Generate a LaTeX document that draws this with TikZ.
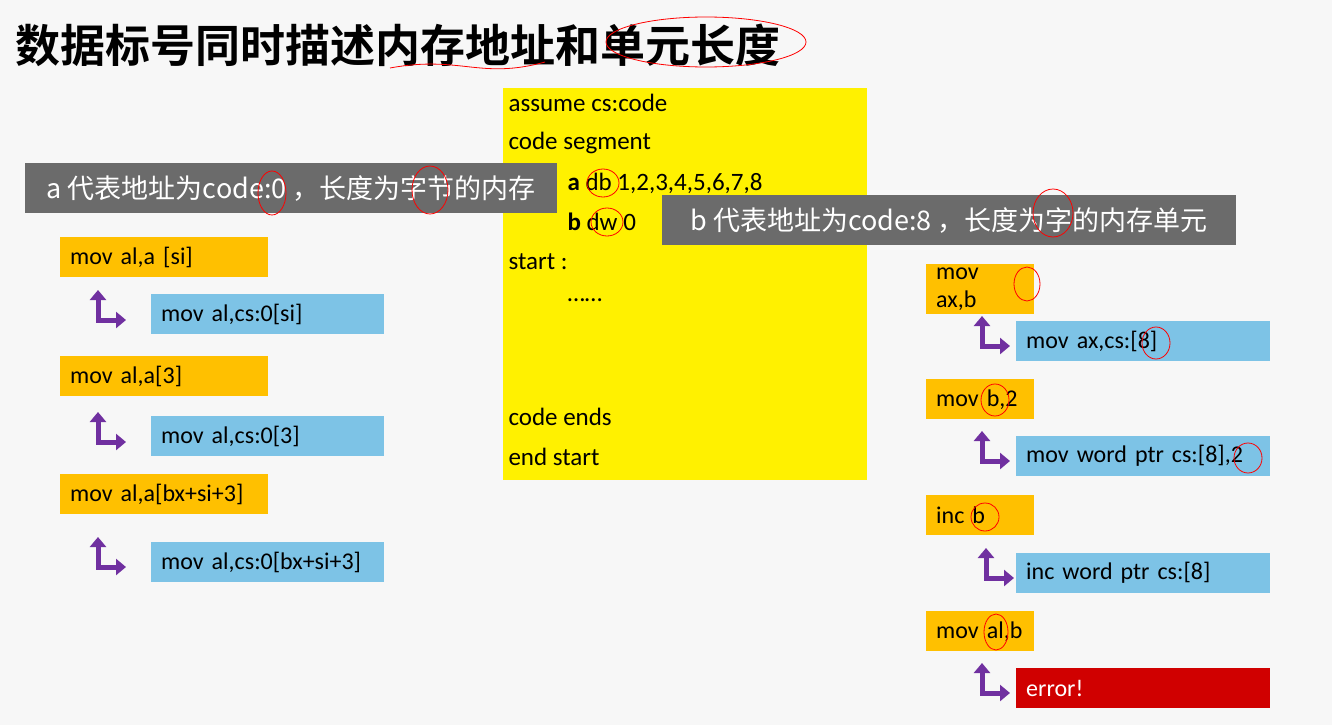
\documentclass[tikz,border=0pt]{standalone}
\usepackage{fontspec}
\setmainfont{Carlito}
\newfontfamily\cjk{Noto Sans CJK SC}
\newfontfamily\cjkb{Noto Sans CJK SC Bold}
\usetikzlibrary{calc,positioning,arrows.meta}
\definecolor{insorange}{HTML}{FFC000}
\definecolor{resblue}{HTML}{7DC3E6}
\definecolor{tagGray}{HTML}{6B6B6B}
\definecolor{codeyellow}{HTML}{FFF100}
\definecolor{iconpurple}{HTML}{7030A0}
\definecolor{errred}{HTML}{D00000}
\tikzset{
 ins/.style={fill=insorange,anchor=north west,minimum height=40pt,inner xsep=10pt,align=left,font=\fontsize{24}{28}\selectfont},
 res/.style={fill=resblue,anchor=north west,minimum height=40pt,inner xsep=10pt,align=left,font=\fontsize{24}{28}\selectfont},
 tag/.style={fill=tagGray,text=white,anchor=north west,minimum height=50pt,inner xsep=10pt,font=\cjk\fontsize{27}{30}\selectfont},
 codeline/.style={anchor=west,font=\fontsize{25}{28}\selectfont},
 ink/.style={red,thick}
}
\newcommand\bent[2]{\draw[iconpurple,line width=5pt,<->,>={Triangle[length=10pt,width=16pt]}] (#1,#2) -- ++(0,30) -- ++(28,0);}
\begin{document}
\begin{tikzpicture}[x=1pt,y=-1pt]
\useasboundingbox[fill=gray!6] (0,0) rectangle (1332,725);
\node[anchor=west,font=\cjkb\fontsize{45}{50}\selectfont] (title) at (12,45) {数据标号同时描述内存地址和单元长度};
\draw[ink] (706,42) ellipse (100 and 25);
\draw[ink] (390,68) .. controls (460,55) and (480,80) .. (545,62);

% code box
\fill[codeyellow] (503,88) rectangle (867,480);
\node[codeline] (l1) at (505,103) {assume cs:code};
\node[codeline] (l2) at (505,143) {code segment};
\node[codeline] (l3) at (564,183) {\textbf{a} db 1,2,3,4,5,6,7,8};
\node[codeline] (l4) at (564,222) {\textbf{b} dw 0};
\node[codeline] (l5) at (505,262) {start :};
\node[codeline] (l6) at (564,300) {……};
\node[codeline] (l7) at (505,417) {code ends};
\node[codeline] (l8) at (505,457) {end start};

% tags
\node[tag,minimum width=532pt] (ta) at (25,163) {a 代表地址为code:0 ，长度为字节的内存};
\node[tag,minimum width=574pt] (tb) at (662,195) {b 代表地址为code:8 ，长度为字的内存单元};

% left column
\node[ins,text width=188pt] (a1) at (60,237) {mov al,a [si]};
\node[res,text width=213pt] (r1) at (151,294) {mov al,cs:0[si]};
\node[ins,text width=188pt] (a2) at (60,356) {mov al,a[3]};
\node[res,text width=213pt] (r2) at (151,416) {mov al,cs:0[3]};
\node[ins,text width=188pt] (a3) at (60,474) {mov al,a[bx+si+3]};
\node[res,text width=213pt] (r3) at (151,542) {mov al,cs:0[bx+si+3]};
\bent{98}{290}
\bent{98}{412}
\bent{98}{537}

% right column
\node[ins,text width=88pt] (b1) at (926,264) {mov ax,b};
\node[res,text width=234pt] (s1) at (1016,321) {mov ax,cs:[8]};
\node[ins,text width=88pt] (b2) at (926,379) {mov b,2};
\node[res,text width=234pt] (s2) at (1016,436) {mov word ptr cs:[8],2};
\node[ins,text width=88pt] (b3) at (926,495) {inc b};
\node[res,text width=234pt] (s3) at (1016,553) {inc word ptr cs:[8]};
\node[ins,text width=88pt] (b4) at (926,611) {mov al,b};
\node[res,fill=errred,text=white,text width=234pt] (s4) at (1016,668) {error!};
\bent{982}{316}
\bent{982}{431}
\bent{986}{548}
\bent{982}{663}

% annotations
\draw[ink] (272,193) ellipse (14 and 22);
\draw[ink] (430,190) ellipse (18 and 24);
\draw[ink] (1053,213) ellipse (20 and 24);
\draw[ink] (603,183) ellipse (16 and 14);
\draw[ink] (607,222) ellipse (16 and 14);
\draw[ink] (1027,284) ellipse (13 and 17);
\draw[ink] (1156,343) ellipse (14 and 16);
\draw[ink] (995,400) ellipse (14 and 16);
\draw[ink] (1248,458) ellipse (14 and 15);
\draw[ink] (985,517) ellipse (14 and 14);
\draw[ink] (996,632) ellipse (12 and 18);
\end{tikzpicture}
\end{document}
